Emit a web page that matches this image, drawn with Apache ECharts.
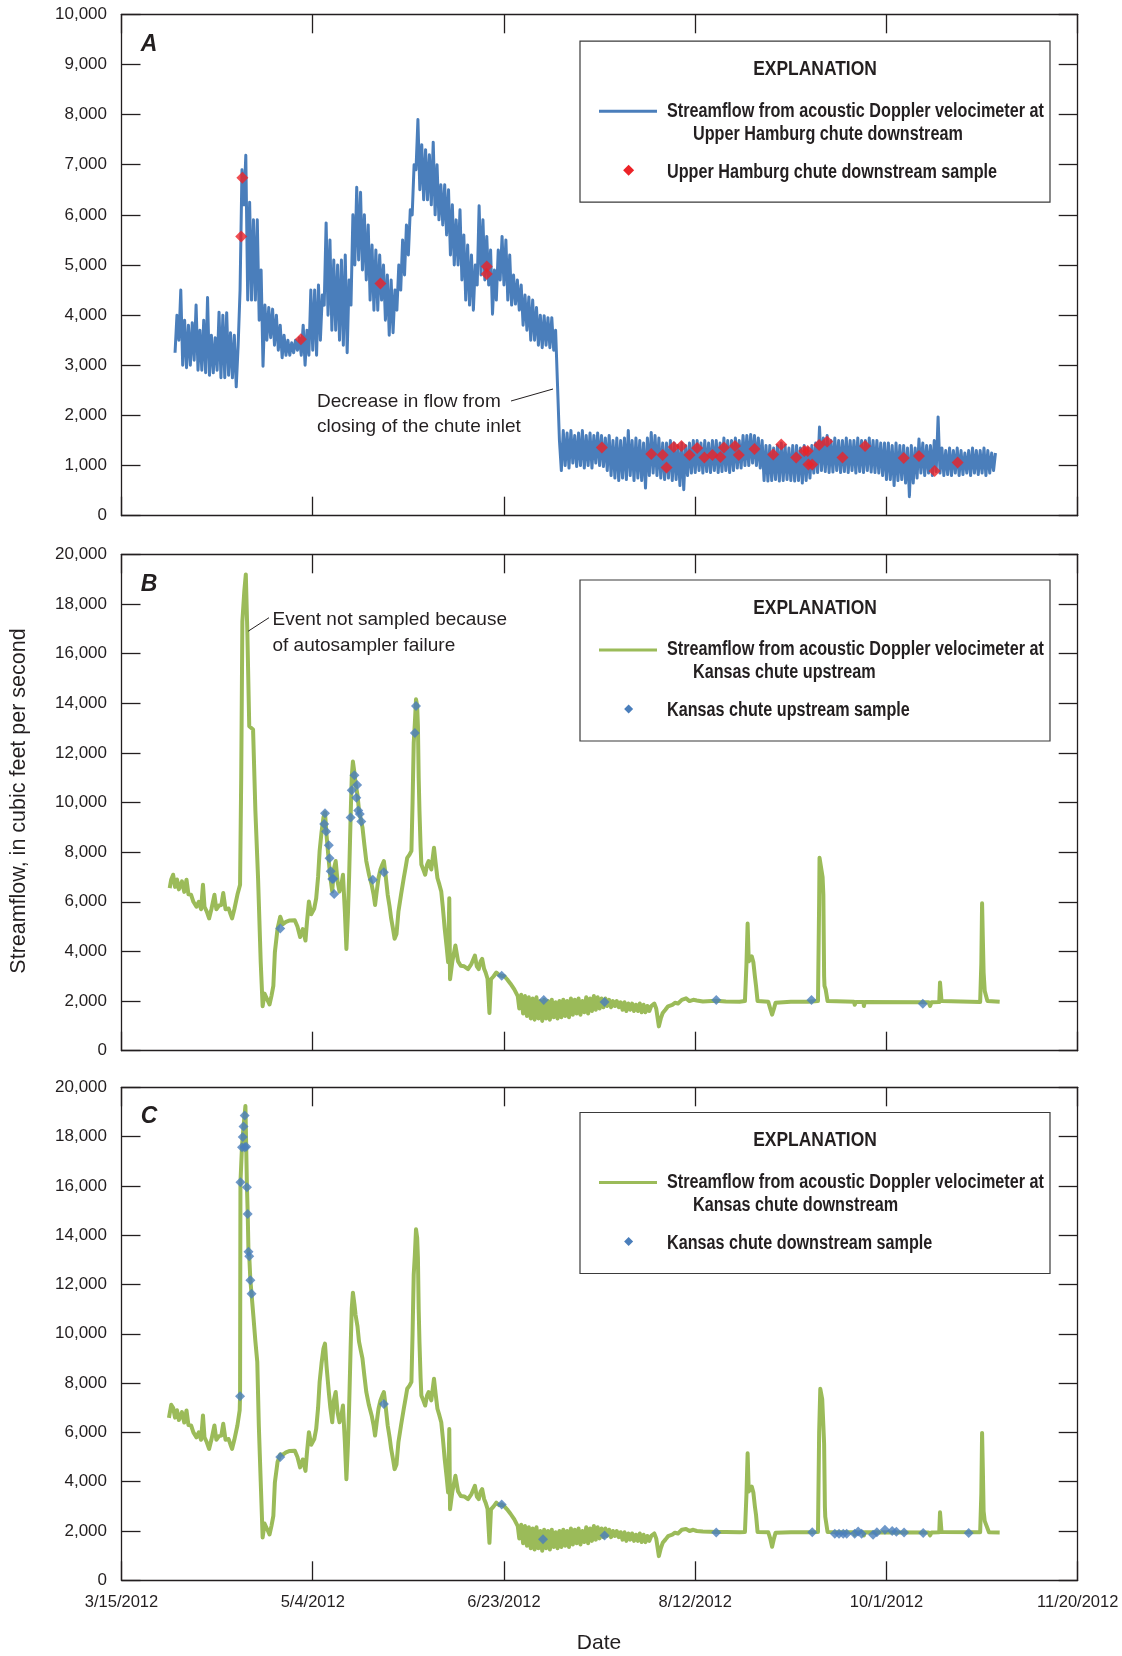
<!DOCTYPE html>
<html>
<head>
<meta charset="utf-8">
<script src="https://cdn.jsdelivr.net/npm/echarts@6/dist/echarts.min.js"></script>
<style>
  html, body { margin: 0; padding: 0; background: #ffffff; }
  #chart { width: 1122px; height: 1656px; }
</style>
</head>
<body>
<div id="chart"></div>
<script>
// Date ticks, 50 days apart; x values are days after 3/15/2012
const dateTicks = ['3/15/2012', '5/4/2012', '6/23/2012', '8/12/2012', '10/1/2012', '11/20/2012'];

// A. Upper Hamburg chute downstream streamflow (ft3/s): daily trough and crest of the
// oscillating 15-minute record, first day = 14
const hamburgStartDay = 14;
const hamburgLow = [
  3250, 3500, 3000, 2950, 3000, 3100, 2900, 2900, 2850, 2800,
  2850, 2900, 2750, 2750, 2800, 2750, 2570, 4500, 6200, 4300,
  4300, 4300, 3900, 2980, 3500, 3550, 3400, 3300, 3150, 3200,
  3200, 3250, 3300, 3200, 3000, 3200, 3300, 3200, 3500, 4200,
  4000, 3700, 3700, 3500, 3400, 3250, 4200, 5000, 5100, 4900,
  4700, 4300, 4100, 4100, 4300, 3900, 3600, 3650, 4100, 4500,
  4800, 5200, 6000, 6900, 6500, 6300, 6300, 6200, 6000, 5900,
  5800, 5600, 5200, 5000, 5000, 4700, 4300, 4200, 4100, 4600,
  4800, 4700, 4600, 4020, 4300, 4700, 4600, 4300, 4200, 4220,
  4100, 3800, 3700, 3500, 3500, 3400, 3350, 3400, 3350, 3300,
  2600, 900, 1000, 950, 1050, 980, 1000, 950, 1000, 950,
  1050, 1000, 980, 900, 800, 750, 700, 750, 720, 800,
  700, 750, 700, 550, 800, 850, 800, 750, 720, 750,
  700, 720, 600, 520, 800, 850, 860, 900, 850, 880,
  860, 900, 860, 880, 900, 860, 900, 950, 950, 1000,
  1000, 1050, 1000, 950, 700, 690, 700, 720, 690, 700,
  720, 700, 690, 700, 650, 700, 750, 850, 860, 900,
  880, 860, 870, 900, 860, 880, 860, 900, 850, 880,
  860, 900, 870, 860, 850, 800, 720, 720, 600, 700,
  720, 650, 380, 650, 750, 850, 800, 850, 800, 880,
  850, 800, 820, 800, 850, 800, 820, 850, 800, 850,
  820, 850, 800, 850, 900
];
const hamburgHigh = [
  4000, 4500, 3900, 3800, 3850, 4200, 3700, 3900, 4350, 3600,
  3550, 4060, 4000, 4050, 3650, 3600, 3400, 6900, 7190, 6250,
  5900, 5900, 4900, 4200, 4150, 4120, 4000, 3800, 3600, 3500,
  3450, 3500, 3550, 3800, 3700, 4500, 4500, 4600, 4400, 5840,
  5500, 5100, 5000, 5100, 5200, 4700, 6000, 6550, 6450, 6000,
  5800, 5400, 5300, 5200, 5000, 4800, 4700, 4500, 5000, 5500,
  5800, 6100, 7000, 7900, 7400, 7300, 7200, 7450, 7000, 6600,
  6600, 6500, 6200, 5900, 6100, 5600, 5400, 5200, 5000, 6180,
  5900, 5570, 5300, 4900, 5300, 5570, 5500, 5200, 4800, 4700,
  4600, 4400, 4360, 4300, 4150, 4000, 3990, 3950, 3950, 3700,
  1500, 1700, 1650, 1700, 1600, 1650, 1700, 1600, 1650, 1600,
  1650, 1600, 1550, 1600, 1500, 1550, 1500, 1550, 1700, 1500,
  1550, 1500, 1450, 1550, 1660, 1600, 1550, 1450, 1450, 1500,
  1450, 1400, 1450, 1400, 1450, 1500, 1500, 1450, 1500, 1450,
  1500, 1500, 1450, 1550, 1500, 1500, 1550, 1500, 1600, 1600,
  1620, 1600, 1550, 1500, 1400, 1400, 1350, 1400, 1450, 1400,
  1350, 1400, 1400, 1350, 1400, 1350, 1400, 1450, 1770, 1550,
  1600, 1500, 1550, 1500, 1500, 1550, 1500, 1500, 1550, 1500,
  1500, 1550, 1500, 1500, 1450, 1450, 1450, 1400, 1450, 1400,
  1400, 1350, 1400, 1350, 1530, 1450, 1400, 1400, 1500, 1970,
  1350, 1300, 1350, 1300, 1350, 1300, 1250, 1300, 1350, 1300,
  1300, 1350, 1300, 1250, 1250
];
const hamburgSampleDays = [
  31.3, 31.6, 46.9, 67.7, 95.5, 95.5, 125.6, 138.5, 141.5, 142.5,
  144.4, 146.4, 148.5, 150.5, 152.4, 154.5, 156.6, 157.5, 160.4, 161.4,
  165.5, 170.4, 172.5, 176.4, 178.5, 179.4, 179.6, 180.6, 182.4, 184.5,
  188.5, 194.4, 204.5, 208.5, 212.6, 218.6
];
const hamburgSampleFlow = [
  5570, 6740, 3520, 4630, 4970, 4820, 1360, 1230, 1210, 960,
  1370, 1390, 1210, 1350, 1160, 1210, 1170, 1360, 1390, 1210,
  1330, 1220, 1420, 1160, 1290, 1290, 1020, 1020, 1410, 1480,
  1160, 1390, 1150, 1190, 890, 1060
];

// B. Kansas chute upstream streamflow, [day, ft3/s]
const kansasUpFlow = [
  [12.6,6550],[13.0,6900],[13.5,7090],[14.0,6600],[14.5,6900],[15.0,6500],[15.8,6820],[16.4,6400],
  [17.0,6890],[17.5,6300],[18.2,6280],[18.8,6000],[19.6,5800],[20.2,6000],[20.8,5700],[21.3,6690],
  [21.7,5800],[22.3,5600],[22.9,5330],[23.5,5700],[24.3,6280],[24.8,5700],[25.5,5850],[26.1,5870],
  [26.6,6350],[27.2,5700],[28.0,5730],[28.5,5500],[28.9,5330],[29.5,5700],[30.3,6280],[31.0,6690],
  [31.3,11030],[31.6,17290],[32.1,18500],[32.5,19190],[32.9,16880],[33.4,13070],[34.4,12940],[35.0,9680],
  [35.7,6960],[36.4,3560],[36.9,1790],[37.4,2300],[37.8,2340],[38.3,2000],[38.7,1860],[39.2,2200],
  [39.7,2610],[40.1,3970],[40.8,4920],[41.5,5400],[42.2,5100],[43.0,5190],[44.0,5250],[45.3,5260],
  [46.0,5000],[46.7,4580],[47.4,4900],[48.1,4440],[48.5,5200],[49.0,6010],[49.6,5500],[50.4,5730],
  [50.9,6140],[51.4,7000],[51.8,8050],[52.3,8800],[52.8,9400],[53.2,9600],[53.6,8700],[54.2,7640],
  [54.6,7000],[55.1,6410],[55.5,7300],[56.0,7640],[56.5,6800],[57.0,6410],[57.5,6700],[57.9,7090],
  [58.4,5600],[58.8,4100],[59.2,5500],[59.5,6960],[59.9,9400],[60.2,11030],[60.5,11650],[60.9,11200],
  [61.2,10760],[61.7,10300],[62.1,9680],[62.6,9300],[63.0,9000],[63.5,8300],[64.0,7640],[64.7,7100],
  [65.4,6690],[65.9,6300],[66.3,5870],[66.8,6500],[67.2,6960],[67.7,7300],[68.2,7500],[68.6,7640],
  [69.1,7000],[69.6,6280],[70.1,5800],[70.5,5330],[71.0,4900],[71.4,4510],[71.9,4700],[72.4,5600],
  [73.1,6300],[73.8,6960],[74.3,7400],[74.7,7770],[75.3,7900],[75.8,8050],[76.1,10000],[76.4,12390],
  [76.7,13200],[77.0,14160],[77.3,13900],[77.5,13070],[77.7,11000],[77.9,9680],[78.2,8200],[78.4,7500],
  [78.9,7300],[79.4,7090],[79.9,7500],[80.3,7640],[81.0,7300],[81.7,8180],[82.1,7600],[82.6,6960],
  [83.1,6700],[83.6,6410],[84.0,5800],[84.5,4920],[85.0,4200],[85.4,3560],[85.7,6140],[85.9,2880],
  [86.5,3600],[87.3,4240],[88.0,3600],[88.7,3420],[89.6,3400],[90.6,3290],[91.5,3500],[92.4,3830],
  [92.9,3400],[93.4,3290],[93.9,3600],[94.3,3700],[94.8,3300],[95.2,3150],[95.7,2900],[96.2,1520],
  [96.6,2880],[97.3,3000],[98.0,3150],[98.7,3050],[99.4,3020],[100.1,3000],[100.8,2880],[101.7,2700],
  [102.7,2470],[103.6,2200],
  [104.0,1700],[104.5,2250],[105.0,1500],[105.5,2200],[106.0,1400],[106.5,2150],[107.0,1300],[107.5,2100],
  [108.0,1250],[108.5,2150],[109.0,1300],[109.5,2000],[110.0,1200],[110.5,2050],[111.0,1300],[111.5,2000],
  [112.0,1250],[112.5,2050],[113.0,1350],[113.5,1950],[114.0,1300],[114.5,2000],[115.0,1350],[115.5,2050],
  [116.0,1400],[116.5,2000],[117.0,1350],[117.5,2100],[118.0,1450],[118.5,2050],[119.0,1500],[119.5,2100],
  [120.0,1450],[120.5,2000],[121.0,1550],[121.5,2150],[122.0,1500],[122.5,2100],[123.0,1600],[123.5,2200],
  [124.0,1650],[124.5,2150],[125.0,1700],[125.5,2100],[126.0,1750],[126.5,2100],[127.0,1800],[127.5,2050],
  [128.0,1750],[128.5,2000],[129.0,1800],[129.5,2000],[130.0,1750],[130.5,1950],[131.0,1650],[131.5,1950],
  [132.0,1600],[132.5,1900],[133.0,1650],[133.5,1900],[134.0,1600],[134.5,1850],[135.0,1600],[135.5,1900],
  [136.0,1550],[136.5,1850],[137.0,1550],[137.5,1800],[138.0,1600],[138.5,1800],[139.3,1900],[139.8,1700],
  [140.5,980],[141.0,1300],[141.5,1520],[142.2,1650],[142.9,1790],[144.0,1850],[144.7,1930],[145.5,1900],
  [146.5,2050],[147.6,2110],[148.5,2000],[149.5,2050],[150.4,2020],[152.0,1980],[155.5,2010],[158.0,1980],
  [161.6,1970],[163.0,2000],[163.4,3500],[163.7,5120],[164.0,3600],[164.4,3560],[164.8,3800],[165.2,3560],
  [165.6,3000],[165.9,2610],[166.3,2000],[169.1,1970],[169.6,1700],[170.1,1450],[170.6,1700],[171.0,1930],
  [175.0,1970],[179.5,1970],[182.1,2000],[182.4,6000],[182.5,7770],[183.0,7700],[183.3,7000],[183.5,6280],
  [183.7,3000],[183.8,2610],[184.1,2470],[184.4,2500],[184.6,2000],[191.5,1970],[191.7,1850],[192.0,1960],
  [194.0,1960],[194.1,1800],[194.3,1960],[211.0,1950],[211.4,1800],[211.8,1950],[213.8,1960],[214.0,2750],
  [214.2,2700],[214.4,2000],[224.5,1960],[224.8,3500],[225.0,5940],[225.2,4500],[225.4,3150],[225.7,2400],
  [225.9,2340],[226.4,2000],[229.6,1970]
];
const kansasUpSampleDays = [
  41.5, 53.0, 53.2, 53.5, 54.2, 54.4, 54.7, 55.1, 55.4, 55.6,
  59.9, 60.2, 60.9, 61.4, 61.6, 61.9, 62.3, 62.7, 65.7, 68.6,
  76.7, 77.0, 99.4, 110.4, 126.3, 155.5, 180.4, 209.5
];
const kansasUpSampleFlow = [
  4920, 9130, 9570, 8830, 8280, 7750, 7230, 6920, 6930, 6310,
  9400, 10490, 11100, 10190, 10710, 9680, 9540, 9230, 6890, 7190,
  12800, 13890, 3020, 2040, 1960, 2040, 2040, 1890
];

// C. Kansas chute downstream streamflow, [day, ft3/s]
const kansasDownFlow = [
  [12.4,6590],[13.0,7120],[13.5,7000],[14.0,6600],[14.5,6900],[15.0,6500],[15.8,6820],[16.4,6400],
  [17.0,6890],[17.5,6300],[18.2,6280],[18.8,6000],[19.6,5800],[20.2,6000],[20.8,5700],[21.3,6690],
  [21.7,5800],[22.3,5600],[22.9,5330],[23.5,5700],[24.3,6280],[24.8,5700],[25.5,5850],[26.1,5870],
  [26.6,6350],[27.2,5700],[28.0,5730],[28.5,5500],[28.9,5330],[29.5,5700],[30.3,6280],[30.9,6900],
  [31.0,7470],[31.1,16130],[31.5,17600],[31.9,18400],[32.2,18900],[32.4,19240],[32.6,17600],[32.8,15950],
  [33.0,14860],[33.2,13330],[33.4,13150],[33.7,12170],[34.0,11620],[34.5,10680],[35.0,9700],[35.5,8860],
  [35.9,6290],[36.4,4000],[36.9,1740],[37.4,2300],[37.8,2340],[38.3,2000],[38.7,1860],[39.2,2200],
  [39.7,2610],[40.1,3970],[40.8,4800],[41.5,5100],[42.2,5100],[43.0,5190],[44.0,5250],[45.3,5260],
  [46.0,5000],[46.7,4580],[47.4,4900],[48.1,4440],[48.5,5200],[49.0,6010],[49.6,5500],[50.4,5730],
  [50.9,6140],[51.4,7000],[51.8,8050],[52.3,8800],[52.8,9400],[53.2,9600],[53.6,8700],[54.2,7640],
  [54.6,7000],[55.1,6410],[55.5,7300],[56.0,7640],[56.5,6800],[57.0,6410],[57.5,6700],[57.9,7090],
  [58.4,5600],[58.8,4100],[59.2,5500],[59.5,6960],[59.9,9400],[60.2,11030],[60.5,11670],[60.9,11200],
  [61.2,10760],[61.7,10300],[62.1,9680],[62.6,9300],[63.0,9000],[63.5,8300],[64.0,7640],[64.7,7100],
  [65.4,6690],[65.9,6300],[66.3,5870],[66.8,6500],[67.2,6960],[67.7,7300],[68.2,7500],[68.6,7640],
  [69.1,7000],[69.6,6280],[70.1,5800],[70.5,5330],[71.0,4900],[71.4,4510],[71.9,4700],[72.4,5600],
  [73.1,6300],[73.8,6960],[74.3,7400],[74.7,7770],[75.3,7900],[75.8,8050],[76.1,10000],[76.4,12390],
  [76.7,13200],[77.0,14240],[77.3,13900],[77.5,13070],[77.7,11000],[77.9,9680],[78.2,8200],[78.4,7500],
  [78.9,7300],[79.4,7090],[79.9,7500],[80.3,7640],[81.0,7300],[81.7,8180],[82.1,7600],[82.6,6960],
  [83.1,6700],[83.6,6410],[84.0,5800],[84.5,4920],[85.0,4200],[85.4,3560],[85.7,6140],[85.9,2880],
  [86.5,3600],[87.3,4240],[88.0,3600],[88.7,3420],[89.6,3400],[90.6,3290],[91.5,3500],[92.4,3830],
  [92.9,3400],[93.4,3290],[93.9,3600],[94.3,3700],[94.8,3300],[95.2,3150],[95.7,2900],[96.2,1520],
  [96.6,2880],[97.3,3000],[98.0,3150],[98.7,3050],[99.4,3080],[100.1,3000],[100.8,2880],[101.7,2700],
  [102.7,2470],[103.6,2200],
  [104.0,1700],[104.5,2250],[105.0,1500],[105.5,2200],[106.0,1400],[106.5,2150],[107.0,1300],[107.5,2100],
  [108.0,1250],[108.5,2150],[109.0,1300],[109.5,2000],[110.0,1200],[110.5,2050],[111.0,1300],[111.5,2000],
  [112.0,1250],[112.5,2050],[113.0,1350],[113.5,1950],[114.0,1300],[114.5,2000],[115.0,1350],[115.5,2050],
  [116.0,1400],[116.5,2000],[117.0,1350],[117.5,2100],[118.0,1450],[118.5,2050],[119.0,1500],[119.5,2100],
  [120.0,1450],[120.5,2000],[121.0,1550],[121.5,2150],[122.0,1500],[122.5,2100],[123.0,1600],[123.5,2200],
  [124.0,1650],[124.5,2150],[125.0,1700],[125.5,2100],[126.0,1750],[126.5,2100],[127.0,1800],[127.5,2050],
  [128.0,1750],[128.5,2000],[129.0,1800],[129.5,2000],[130.0,1750],[130.5,1950],[131.0,1650],[131.5,1950],
  [132.0,1600],[132.5,1900],[133.0,1650],[133.5,1900],[134.0,1600],[134.5,1850],[135.0,1600],[135.5,1900],
  [136.0,1550],[136.5,1850],[137.0,1550],[137.5,1800],[138.0,1600],[138.5,1800],[139.3,1900],[139.8,1700],
  [140.5,980],[141.0,1300],[141.5,1520],[142.2,1650],[142.9,1790],[144.0,1850],[144.7,1930],[145.5,1900],
  [146.5,2050],[147.6,2080],[148.5,2000],[149.5,2050],[150.4,2000],[152.0,1980],[155.5,1960],[158.0,1960],
  [161.6,1950],[163.0,1960],[163.4,3500],[163.7,5150],[164.0,3600],[164.4,3560],[164.8,3800],[165.2,3560],
  [165.6,3000],[165.9,2650],[166.3,1960],[169.1,1950],[169.6,1700],[170.1,1360],[170.6,1700],[171.0,1930],
  [175.0,1950],[179.5,1950],[182.1,1960],[182.4,6000],[182.7,7770],[183.0,7700],[183.2,7350],[183.5,6280],
  [183.7,5530],[183.9,3000],[184.0,2580],[184.3,2500],[184.6,1960],[191.5,1950],[191.7,1850],[192.0,1950],
  [194.0,1950],[194.1,1820],[194.3,1950],[211.0,1940],[211.4,1820],[211.8,1940],[213.8,1950],[214.0,2760],
  [214.2,2700],[214.4,1960],[224.5,1950],[224.8,3500],[225.0,5980],[225.2,4500],[225.4,2800],[225.7,2400],
  [226.2,2320],[226.8,1950],[229.6,1940]
];
const kansasDownSampleDays = [
  31.0, 31.1, 31.5, 31.7, 31.9, 32.2, 32.2, 32.6, 32.8, 33.0,
  33.2, 33.4, 33.7, 34.0, 41.5, 68.6, 99.4, 110.2, 126.3, 155.5,
  180.6, 186.5, 187.6, 188.7, 189.6, 191.7, 192.6, 193.5, 196.5, 197.5,
  199.6, 201.5, 202.6, 204.6, 209.6, 221.5
];
const kansasDownSampleFlow = [
  7470, 16150, 17570, 17980, 18410, 18860, 17570, 17590, 15950, 14860,
  13330, 13150, 12170, 11620, 5000, 7150, 3080, 1670, 1820, 1940,
  1950, 1890, 1890, 1890, 1890, 1890, 1980, 1890, 1850, 1950,
  2050, 2000, 1970, 1940, 1920, 1920
];

// ---------------------------------------------------------------------------
const INK = '#231f20';
const SANS = '"Liberation Sans", Arial, sans-serif';
const BLUE_LINE = '#4a7ebb';
const RED_MARK = '#ec2227';
const GREEN_LINE = '#9bbb59';
const BLUE_MARK = '#4a7ebb';
const CONDENSE = 0.83;   // horizontal squeeze giving a condensed face

// Zig-zag the daily troughs and crests into one continuous trace
const hamburgTrace = [];
hamburgLow.forEach((lo, i) => {
  const d = hamburgStartDay + i;
  hamburgTrace.push([d, lo], [d + 0.5, hamburgHigh[i]]);
});
const pairs = (days, flows) => days.map((d, i) => [d, flows[i]]);

const frame = [
  { top: 14.3, height: 501.4, max: 10000, step: 1000 },
  { top: 554.3, height: 496.4, max: 20000, step: 2000 },
  { top: 1087.3, height: 493.0, max: 20000, step: 2000 }
];
const plotLeft = 121.5, plotWidth = 956.2;

const axisLine = () => ({ show: true, onZero: false, lineStyle: { color: INK, width: 1.3 } });
const tick = () => ({ show: true, inside: true, length: 19, lineStyle: { color: INK, width: 1.3 } });

const grid = [], xAxis = [], yAxis = [];
frame.forEach((f, p) => {
  grid.push({ left: plotLeft, top: f.top, width: plotWidth, height: f.height, containLabel: false });
  xAxis.push({
    type: 'value', gridIndex: p, position: 'bottom', min: 0, max: 250, interval: 50,
    axisLine: axisLine(), axisTick: tick(), splitLine: { show: false },
    axisLabel: {
      show: p === 2, margin: 14, color: INK, fontFamily: SANS, fontSize: 16.5,
      showMinLabel: true, showMaxLabel: true,
      formatter: v => dateTicks[Math.round(v / 50)]
    }
  });
  xAxis.push({
    type: 'value', gridIndex: p, position: 'top', min: 0, max: 250, interval: 50,
    axisLine: axisLine(), axisTick: tick(), splitLine: { show: false }, axisLabel: { show: false }
  });
  yAxis.push({
    type: 'value', gridIndex: p, position: 'left', min: 0, max: f.max, interval: f.step,
    axisLine: axisLine(), axisTick: tick(), splitLine: { show: false },
    axisLabel: {
      margin: 14.5, color: INK, fontFamily: SANS, fontSize: 17,
      showMinLabel: true, showMaxLabel: true,
      formatter: v => v.toLocaleString('en-US')
    }
  });
  yAxis.push({
    type: 'value', gridIndex: p, position: 'right', min: 0, max: f.max, interval: f.step,
    axisLine: axisLine(), axisTick: tick(), splitLine: { show: false }, axisLabel: { show: false }
  });
});

const lineSeries = (p, data, color, width) => ({
  type: 'line', xAxisIndex: 2 * p, yAxisIndex: 2 * p, data,
  showSymbol: false, symbol: 'none', sampling: null, smooth: false,
  lineStyle: { color, width, join: 'round' }, z: 2, silent: true
});
const markSeries = (p, data, color, size) => ({
  type: 'scatter', xAxisIndex: 2 * p, yAxisIndex: 2 * p, data,
  symbol: 'diamond', symbolSize: size, itemStyle: { color }, z: 3, silent: true
});

const label = (x, y, text, font, align) => ({
  type: 'text', z: 11, x, y, scaleX: CONDENSE,
  style: { text, font, fill: INK, textAlign: align, align,
           textVerticalAlign: 'middle', verticalAlign: 'middle' }
});

// Explanation box drawn at the same place in each panel
function explanation(top, lineColor, markColor, markHalf, line1, line2, sampleText) {
  const cx = 628.6, cy = top + 129;
  const bold = `bold 19.5px ${SANS}`;
  return [
    { type: 'rect', z: 10, shape: { x: 580, y: top, width: 470, height: 161 },
      style: { fill: '#ffffff', stroke: '#3b3b3b', lineWidth: 1.2 } },
    label(815, top + 28, 'EXPLANATION', `bold 21px ${SANS}`, 'center'),
    { type: 'line', z: 11, shape: { x1: 599, y1: top + 70, x2: 657, y2: top + 70 },
      style: { stroke: lineColor, lineWidth: 3 } },
    label(667, top + 70, line1, bold, 'left'),
    label(693, top + 93, line2, bold, 'left'),
    { type: 'polygon', z: 11,
      shape: { points: [[cx, cy - markHalf], [cx + markHalf, cy], [cx, cy + markHalf], [cx - markHalf, cy]] },
      style: { fill: markColor } },
    label(667, top + 131, sampleText, bold, 'left')
  ];
}

const panelLetter = (letter, y) => ({
  type: 'text', z: 11, x: 149, y,
  style: { text: letter, font: `italic bold 23px ${SANS}`, fill: INK,
           textAlign: 'center', textVerticalAlign: 'middle', align: 'center', verticalAlign: 'middle' }
});
const note = (x, y, text) => ({
  type: 'text', z: 11, x, y,
  style: { text, font: `19px ${SANS}`, fill: INK, textVerticalAlign: 'middle', verticalAlign: 'middle' }
});

const graphic = [
  panelLetter('A', 45), panelLetter('B', 584.5), panelLetter('C', 1117),
  ...explanation(41.2, BLUE_LINE, RED_MARK, 5.5,
    'Streamflow from acoustic Doppler velocimeter at', 'Upper Hamburg chute downstream',
    'Upper Hamburg chute downstream sample'),
  ...explanation(580, GREEN_LINE, BLUE_MARK, 4.5,
    'Streamflow from acoustic Doppler velocimeter at', 'Kansas chute upstream',
    'Kansas chute upstream sample'),
  ...explanation(1112.5, GREEN_LINE, BLUE_MARK, 4.5,
    'Streamflow from acoustic Doppler velocimeter at', 'Kansas chute downstream',
    'Kansas chute downstream sample'),
  note(317, 401.5, 'Decrease in flow from'),
  note(317, 427, 'closing of the chute inlet'),
  { type: 'line', z: 11, shape: { x1: 511, y1: 401, x2: 553, y2: 389 }, style: { stroke: INK, lineWidth: 1 } },
  note(272.5, 620, 'Event not sampled because'),
  note(272.5, 645.5, 'of autosampler failure'),
  { type: 'line', z: 11, shape: { x1: 269, y1: 617.7, x2: 248.2, y2: 631.2 }, style: { stroke: INK, lineWidth: 1 } },
  { type: 'text', z: 11, x: 19, y: 801, rotation: Math.PI / 2,
    style: { text: 'Streamflow, in cubic feet per second', font: `21.5px ${SANS}`, fill: INK,
             textAlign: 'center', textVerticalAlign: 'middle', align: 'center', verticalAlign: 'middle' } },
  { type: 'text', z: 11, x: 599, y: 1643,
    style: { text: 'Date', font: `21px ${SANS}`, fill: INK,
             textAlign: 'center', textVerticalAlign: 'middle', align: 'center', verticalAlign: 'middle' } }
];

const chart = echarts.init(document.getElementById('chart'), null, { renderer: 'canvas' });
chart.setOption({
  animation: false,
  backgroundColor: '#ffffff',
  grid, xAxis, yAxis, graphic,
  series: [
    lineSeries(0, hamburgTrace, BLUE_LINE, 3),
    markSeries(0, pairs(hamburgSampleDays, hamburgSampleFlow), RED_MARK, 12),
    lineSeries(1, kansasUpFlow, GREEN_LINE, 4),
    markSeries(1, pairs(kansasUpSampleDays, kansasUpSampleFlow), BLUE_MARK, 10),
    lineSeries(2, kansasDownFlow, GREEN_LINE, 4),
    markSeries(2, pairs(kansasDownSampleDays, kansasDownSampleFlow), BLUE_MARK, 10)
  ]
});
</script>
</body>
</html>
